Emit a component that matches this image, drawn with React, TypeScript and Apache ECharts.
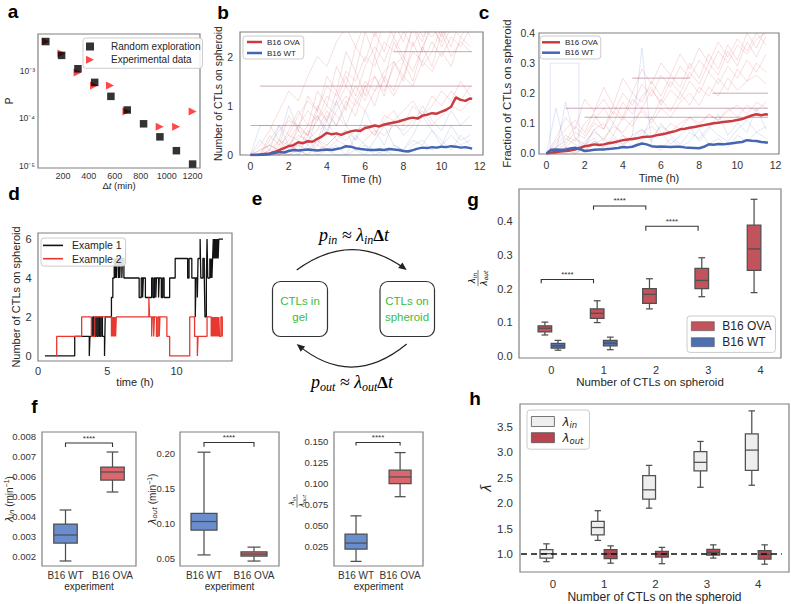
import React, { useEffect, useRef } from 'react';
import * as echarts from 'echarts';

const FONT = '"Liberation Sans", Arial, sans-serif';
const SERIF = '"Liberation Serif", "DejaVu Serif", serif';
const MATH = '"DejaVu Sans", sans-serif';
const TICK = '#333333';
const LABEL = '#262626';
const FRAME = '#808080';
const EDGE = '#4f4f4f';

// ---------- panel a ----------
const aRandomDt = [68, 190, 316, 445, 570, 696, 822, 948, 1075, 1200];
const aRandomP = [4.1e-3, 2.1e-3, 1.1e-3, 5.7e-4, 2.9e-4, 1.5e-4, 7.7e-5, 4.1e-5, 2.1e-5, 1.1e-5];
const aExpDt = [65, 188, 313, 440, 563, 690, 946, 1073, 1200];
const aExpP = [4.1e-3, 2.3e-3, 9.2e-4, 4.9e-4, 4.9e-4, 1.4e-4, 6.7e-5, 6.7e-5, 1.4e-4];

// ---------- panels b, c ----------
const tH = [0, 0.5, 1, 1.5, 2, 2.5, 3, 3.5, 4, 4.5, 5, 5.5, 6, 6.5, 7, 7.5, 8, 8.5, 9, 9.5, 10, 10.5, 11, 11.5];
const tQ = [0, 0.25, 0.5, 0.75, 1, 1.25, 1.5, 1.75, 2, 2.25, 2.5, 2.75, 3, 3.25, 3.5, 3.75, 4, 4.25, 4.5, 4.75, 5, 5.25, 5.5, 5.75, 6, 6.25, 6.5, 6.75, 7, 7.25, 7.5, 7.75, 8, 8.25, 8.5, 8.75, 9, 9.25, 9.5, 9.75, 10, 10.25, 10.5, 10.75, 11, 11.25, 11.5, 11.6];

const bMeanOVA = [0, 0, 0.01, 0.02, 0.03, 0.06, 0.1, 0.14, 0.18, 0.2, 0.26, 0.24, 0.28, 0.27, 0.33, 0.38, 0.45, 0.42, 0.44, 0.41, 0.45, 0.48, 0.5, 0.49, 0.55, 0.57, 0.6, 0.58, 0.62, 0.64, 0.66, 0.68, 0.71, 0.74, 0.76, 0.74, 0.8, 0.82, 0.85, 0.84, 0.88, 0.92, 0.98, 1.17, 1.12, 1.1, 1.15, 1.14];
const bMeanWT = [0, 0, 0, 0.01, 0.02, 0.04, 0.06, 0.05, 0.08, 0.1, 0.09, 0.1, 0.11, 0.1, 0.09, 0.1, 0.11, 0.1, 0.12, 0.14, 0.18, 0.17, 0.14, 0.12, 0.11, 0.1, 0.1, 0.11, 0.1, 0.12, 0.11, 0.1, 0.08, 0.07, 0.1, 0.13, 0.15, 0.14, 0.16, 0.15, 0.17, 0.16, 0.18, 0.17, 0.15, 0.16, 0.14, 0.13];
const cMeanOVA = [0, 0.003, 0.005, 0.006, 0.008, 0.01, 0.013, 0.018, 0.024, 0.026, 0.03, 0.028, 0.03, 0.034, 0.036, 0.04, 0.044, 0.046, 0.048, 0.05, 0.054, 0.055, 0.056, 0.06, 0.063, 0.066, 0.07, 0.074, 0.08, 0.082, 0.085, 0.088, 0.091, 0.094, 0.097, 0.1, 0.102, 0.104, 0.106, 0.108, 0.111, 0.114, 0.12, 0.126, 0.13, 0.127, 0.13, 0.128];
const cMeanWT = [0, 0.012, 0.013, 0.012, 0.013, 0.016, 0.019, 0.014, 0.008, 0.01, 0.012, 0.013, 0.013, 0.015, 0.016, 0.018, 0.021, 0.02, 0.022, 0.028, 0.033, 0.03, 0.024, 0.022, 0.023, 0.022, 0.021, 0.022, 0.022, 0.02, 0.019, 0.018, 0.017, 0.022, 0.03, 0.029, 0.031, 0.03, 0.032, 0.034, 0.036, 0.038, 0.044, 0.042, 0.041, 0.038, 0.036, 0.036];

const bTrajOVA = [
  [0, 0, 0, 0.2, 0.4, 0.3, 0.6, 0.8, 0.5, 0.9, 1.2, 1.0, 1.4, 1.6, 1.3, 1.8, 2.0, 1.7, 2.2, 2.6, 2.3, 2.8, 2.5, 2.9],
  [0, 0, 0.1, 0.3, 0.2, 0.5, 0.4, 0.7, 1.0, 0.8, 0.6, 1.1, 0.9, 1.3, 1.5, 1.2, 1.6, 1.4, 1.9, 1.7, 2.1, 1.8, 2.4, 2.2],
  [0, 0, 0, 0, 0.1, 0.2, 0.1, 0.3, 0.2, 0.4, 0.5, 0.3, 0.6, 0.4, 0.7, 0.9, 0.6, 1.0, 0.8, 1.2, 1.0, 1.3, 1.1, 1.4],
  [0, 0.2, 0.5, 0.9, 1.3, 1.1, 1.6, 2.0, 1.8, 2.3, 2.6, 2.2, 2.7, 2.4, 2.8, 2.6, 3.0, 2.7, 2.9, 2.6, 3.1, 2.8, 3.0, 2.9],
  [0, 0, 0, 0.1, 0, 0.2, 0.3, 0.1, 0.2, 0.4, 0.3, 0.5, 0.6, 0.4, 0.8, 0.7, 0.9, 1.1, 0.8, 1.0, 1.3, 1.1, 1.5, 1.2],
  [0, 0, 0.3, 0.6, 0.4, 0.8, 1.1, 0.9, 1.4, 1.2, 1.7, 1.5, 2.0, 1.8, 2.3, 2.1, 2.5, 2.2, 2.6, 2.4, 2.7, 2.5, 2.8, 2.6],
  [0, 0, 0, 0, 0, 0.1, 0, 0.2, 0.1, 0.3, 0.2, 0.1, 0.3, 0.5, 0.4, 0.6, 0.5, 0.7, 0.9, 0.6, 0.8, 1.0, 0.9, 1.1],
  [0, 0.1, 0.2, 0.5, 0.7, 0.6, 0.9, 0.7, 1.2, 1.0, 1.4, 1.1, 1.5, 1.3, 1.7, 1.9, 1.6, 2.1, 1.9, 2.3, 2.0, 2.4, 2.2, 2.6],
  [0, 0, 0.4, 0.2, 0.8, 0.5, 1.2, 0.9, 1.6, 1.3, 2.1, 1.7, 2.5, 2.0, 2.8, 2.4, 3.0, 2.6, 2.9, 2.7, 3.2, 2.8, 3.1, 3.0],
  [0, 0, 0, 0.3, 0.1, 0.6, 0.4, 1.0, 0.7, 1.3, 0.9, 1.7, 1.2, 2.0, 1.5, 2.3, 1.9, 2.6, 2.1, 2.8, 2.4, 2.9, 2.6, 2.8],
  [0, 0.1, 0.2, 0.1, 0.5, 0.9, 0.6, 1.3, 1.0, 1.8, 1.4, 2.2, 1.9, 2.5, 2.1, 2.7, 2.3, 2.9, 2.4, 2.7, 2.2, 2.6, 2.4, 2.7],
  [0, 0, 0, 0, 0.2, 0.1, 0.5, 0.3, 0.8, 0.6, 1.1, 0.8, 1.4, 1.0, 1.6, 1.3, 1.9, 1.5, 2.2, 1.8, 2.5, 2.0, 2.3, 2.1],
  [0, 0, 0.2, 0.1, 0.3, 0.6, 0.4, 0.9, 0.7, 1.1, 1.6, 1.2, 1.8, 2.2, 1.9, 2.4, 2.0, 2.6, 2.3, 2.9, 2.5, 3.0, 2.7, 3.1],
  [0, 0, 0, 0.1, 0.2, 0.4, 0.3, 0.5, 0.9, 0.6, 1.0, 1.4, 1.1, 1.6, 1.2, 1.9, 1.5, 2.3, 1.8, 2.1, 2.6, 2.2, 2.8, 2.4],
];
const bTrajWT = [
  [0, 0, 0.1, 0, 0.2, 0.1, 0, 0.3, 0.1, 0.2, 0, 0.4, 0.2, 0.1, 0, 0.2, 0.1, 0.3, 0.2, 0.5, 0.3, 0.1, 0.4, 0.2],
  [0, 0.3, 0.1, 0.6, 0.2, 0, 0.4, 0.2, 0.7, 0.3, 0.5, 0.1, 0, 0.3, 0.6, 0.2, 0.1, 0.4, 0.8, 0.5, 0.2, 0.6, 0.3, 0.4],
  [0, 0, 0, 0.1, 0, 0, 0.2, 0, 0.1, 0, 0, 0.1, 0.2, 0, 0.1, 0, 0, 0.2, 0.3, 0.1, 0.2, 0.4, 0.2, 0.3],
  [0, 0.6, 0.6, 0.3, 1.0, 0.5, 0.2, 0.8, 0.4, 1.1, 0.6, 0.3, 0.9, 0.5, 0.2, 0.7, 0.4, 0.6, 1.0, 0.7, 0.5, 0.9, 0.6, 0.8],
];
// flat trajectories: [start time, end time, level]
const bFlat = [[0, 11.6, 0.6], [0.5, 11.6, 1.4], [7.5, 11.6, 2.1]];

const cTrajOVA = [
  [0, 0, 0.02, 0.05, 0.03, 0.08, 0.1, 0.06, 0.12, 0.09, 0.15, 0.11, 0.18, 0.14, 0.2, 0.16, 0.22, 0.19, 0.25, 0.21, 0.28, 0.24, 0.3, 0.27],
  [0, 0.03, 0.06, 0.04, 0.1, 0.13, 0.08, 0.16, 0.12, 0.2, 0.17, 0.24, 0.19, 0.26, 0.22, 0.3, 0.25, 0.33, 0.28, 0.36, 0.31, 0.4, 0.35, 0.42],
  [0, 0, 0, 0.02, 0.01, 0.03, 0.05, 0.02, 0.06, 0.04, 0.07, 0.09, 0.06, 0.1, 0.08, 0.12, 0.1, 0.13, 0.11, 0.15, 0.12, 0.16, 0.14, 0.17],
  [0, 0.05, 0.12, 0.08, 0.18, 0.14, 0.22, 0.16, 0.25, 0.2, 0.28, 0.23, 0.3, 0.26, 0.33, 0.28, 0.35, 0.3, 0.37, 0.32, 0.38, 0.34, 0.4, 0.36],
  [0, 0, 0.01, 0, 0.02, 0.04, 0.02, 0.05, 0.03, 0.06, 0.08, 0.05, 0.09, 0.07, 0.1, 0.12, 0.09, 0.13, 0.11, 0.14, 0.16, 0.13, 0.17, 0.15],
  [0, 0.02, 0.04, 0.09, 0.06, 0.11, 0.15, 0.1, 0.17, 0.13, 0.19, 0.22, 0.16, 0.21, 0.18, 0.24, 0.2, 0.27, 0.23, 0.29, 0.25, 0.31, 0.27, 0.33],
  [0, 0.01, 0.03, 0.07, 0.05, 0.1, 0.08, 0.14, 0.11, 0.18, 0.15, 0.21, 0.17, 0.24, 0.2, 0.27, 0.23, 0.3, 0.26, 0.34, 0.29, 0.37, 0.32, 0.39],
  [0, 0, 0.02, 0.01, 0.04, 0.07, 0.05, 0.09, 0.07, 0.11, 0.14, 0.1, 0.15, 0.12, 0.17, 0.2, 0.16, 0.22, 0.19, 0.25, 0.21, 0.24, 0.26, 0.23],
  [0, 0.04, 0.08, 0.11, 0.07, 0.14, 0.18, 0.13, 0.2, 0.16, 0.23, 0.19, 0.26, 0.22, 0.29, 0.25, 0.31, 0.27, 0.34, 0.3, 0.36, 0.33, 0.38, 0.4],
];
const cTrajWT = [
  [0, 0.15, 0.02, 0, 0.03, 0.05, 0.01, 0.04, 0.02, 0.06, 0.35, 0.03, 0.01, 0.05, 0.02, 0.04, 0.08, 0.03, 0.05, 0.02, 0.06, 0.04, 0.07, 0.05],
  [0, 0.02, 0.05, 0.03, 0.01, 0.04, 0.02, 0.06, 0.03, 0.05, 0.08, 0.04, 0.1, 0.06, 0.03, 0.07, 0.05, 0.09, 0.06, 0.04, 0.08, 0.11, 0.07, 0.09],
  [0, 0, 0.17, 0.05, 0.02, 0.08, 0.04, 0.1, 0.06, 0.02, 0.05, 0.12, 0.07, 0.03, 0.06, 0.09, 0.04, 0.08, 0.13, 0.06, 0.1, 0.07, 0.15, 0.08],
];
const cFlat = [[1.0, 11.6, 0.15], [2.0, 11.6, 0.12], [8.7, 11.6, 0.2], [4.5, 7.5, 0.25]];
const cBoxT = [0.2, 0.2, 1.7, 1.7];
const cBoxV = [0, 0.3, 0.3, 0];

// ---------- panel d ----------
const ex1T = [0.5, 2.65, 3.7, 3.75, 3.95, 4.05, 4.15, 4.25, 4.35, 4.45, 4.55, 4.65, 4.8, 4.85, 5.3, 5.4, 5.5, 5.55, 5.6, 5.65, 5.7, 5.8, 5.85, 5.9, 5.95, 6.05, 6.1, 6.2, 7.3, 7.45, 7.55, 7.6, 7.75, 8.2, 8.3, 8.4, 8.5, 8.55, 8.7, 8.75, 8.9, 9.0, 9.1, 9.5, 9.9, 10.8, 10.9, 11.1, 11.35, 11.4, 11.5, 11.55, 11.7, 11.75, 11.9, 12.0, 12.05, 12.15, 12.2, 12.25, 12.4, 12.45, 12.5, 12.55, 12.6, 12.65, 12.7, 12.75, 12.8, 12.85, 12.9, 12.95, 13.0, 13.05, 13.35];
const ex1V = [0, 1, 0, 1, 2, 1, 2, 1, 2, 1, 2, 1, 0, 2, 3, 4, 5, 4, 5, 4, 5, 4, 5, 4, 5, 4, 5, 4, 3, 4, 3, 4, 3, 4, 3, 4, 3, 4, 3, 4, 3, 4, 3, 4, 5, 4, 5, 4, 2, 4, 3, 5, 6, 4, 5, 4, 2, 4, 6, 4, 5, 4, 5, 4, 5, 6, 5, 6, 5, 6, 5, 6, 5, 6, 6];
const ex2T = [1.25, 1.35, 3.15, 3.85, 4.1, 5.3, 5.35, 5.4, 5.45, 5.5, 5.55, 5.6, 5.65, 8.0, 8.05, 8.2, 8.25, 8.35, 8.4, 8.55, 8.65, 8.75, 8.8, 9.3, 9.5, 10.95, 11.3, 11.5, 11.55, 12.2, 12.5, 12.55, 12.6, 12.65, 12.7, 12.75, 12.8, 12.85, 12.9, 12.95, 13.0, 13.05, 13.1, 13.2, 13.3];
const ex2V = [0, 1, 2, 1, 2, 1, 2, 1, 2, 1, 2, 1, 2, 3, 2, 1, 2, 1, 2, 1, 2, 1, 2, 1, 0, 2, 1, 0, 1, 2, 1, 2, 1, 2, 1, 2, 1, 2, 1, 2, 1, 2, 1, 2, 1];

// ---------- panel f: [low whisker, Q1, median, Q3, high whisker] ----------
const fGroups = ['B16 WT', 'B16 OVA'];
const f1WT = [0.00175, 0.00265, 0.00305, 0.0036, 0.0043];
const f1OVA = [0.0052, 0.0058, 0.0062, 0.00645, 0.0072];
const f2WT = [0.0545, 0.09, 0.1025, 0.114, 0.202];
const f2OVA = [0.0457, 0.0529, 0.0557, 0.059, 0.0657];
const f3WT = [0.0075, 0.022, 0.0293, 0.04, 0.0617];
const f3OVA = [0.0845, 0.1, 0.108, 0.116, 0.137];
// brackets: [y top, y end]
const f1Bracket = [0.00765, 0.00745];
const f2Bracket = [0.216, 0.21];
const f3Bracket = [0.149, 0.1455];

// ---------- panel g ----------
const gCats = [0, 1, 2, 3, 4];
const gOVA = [
  [0.063, 0.072, 0.083, 0.09, 0.101],
  [0.0995, 0.112, 0.127, 0.14, 0.164],
  [0.14, 0.156, 0.183, 0.2, 0.229],
  [0.176, 0.2, 0.224, 0.26, 0.291],
  [0.188, 0.254, 0.317, 0.387, 0.4636],
];
const gWTCats = [0, 1];
const gWT = [
  [0.018, 0.024, 0.031, 0.038, 0.047],
  [0.0195, 0.031, 0.039, 0.047, 0.0566],
];
// [from category, to category, y top, y end]
const gBrackets = [
  [0, 1, 0.227, 0.216],
  [1, 2, 0.444, 0.433],
  [2, 3, 0.384, 0.371],
];

// ---------- panel h ----------
const hInCats = [0, 1, 2, 3, 4];
const hIn = [
  [0.85, 0.92, 1.006, 1.084, 1.2],
  [1.267, 1.378, 1.52, 1.64, 1.85],
  [1.9, 2.08, 2.26, 2.54, 2.74],
  [2.31, 2.63, 2.8, 3.01, 3.21],
  [2.35, 2.64, 3.04, 3.36, 3.81],
];
const hOutCats = [1, 2, 3, 4];
const hOut = [
  [0.82, 0.908, 1.006, 1.084, 1.16],
  [0.81, 0.94, 1.0, 1.05, 1.13],
  [0.92, 0.98, 1.03, 1.09, 1.18],
  [0.8, 0.9, 0.99, 1.065, 1.18],
];
const hRefLevel = 1.0;
const hRefSpan = [-0.62, 4.46];

const LEG: Record<string, string> = {
  bOVA: 'B16 OVA', bWT: 'B16 WT', cOVA: 'B16 OVA', cWT: 'B16 WT',
  gOVA: 'B16 OVA', gWT: 'B16 WT',
  hIn: '{l|λ}{s|in}', hOut: '{l|λ}{s|out}',
  'Example 1': 'Example 1', 'Example 2': 'Example 2',
  'Random exploration': 'Random exploration', 'Experimental data': 'Experimental data',
};

const zip = (xs: number[], ys: number[]) => xs.map((x, i) => [x, ys[i]]);
const tickFmt = (step: number, dec: number) => (v: number) =>
  Math.abs(v / step - Math.round(v / step)) < 1e-6 ? (Math.abs(v) < 1e-12 ? (0).toFixed(dec) : v.toFixed(dec)) : '';
const SUP: Record<string, string> = { '-': '⁻', '0': '⁰', '1': '¹', '2': '²', '3': '³', '4': '⁴', '5': '⁵', '6': '⁶', '7': '⁷', '8': '⁸', '9': '⁹' };
const logFmt = (v: number) => {
  const e = Math.log10(v);
  const r = Math.round(e);
  if (Math.abs(e - r) > 1e-6) return '';
  return '10' + String(r).split('').map((ch) => SUP[ch] || ch).join('');
};

function axis(gridIndex: number, o: any) {
  const { axisLabel, nameTextStyle, ...rest } = o;
  return {
    type: 'value',
    gridIndex,
    axisLine: { show: false },
    axisTick: { show: false },
    splitLine: { show: false },
    nameLocation: 'middle',
    ...rest,
    axisLabel: { color: TICK, fontFamily: FONT, ...(axisLabel || {}) },
    nameTextStyle: { color: LABEL, fontFamily: FONT, ...(nameTextStyle || {}) },
  };
}

function boxRender(halfW: number) {
  return (params: any, api: any) => {
    const x = api.value(0);
    const lo = api.value(1), q1 = api.value(2), md = api.value(3), q3 = api.value(4), hi = api.value(5);
    const pTL = api.coord([x - halfW, q3]);
    const pBR = api.coord([x + halfW, q1]);
    const pLo = api.coord([x, lo]);
    const pHi = api.coord([x, hi]);
    const pMd = api.coord([x, md]);
    const xc = pLo[0];
    const cap = (pBR[0] - pTL[0]) / 4;
    const ls = { stroke: EDGE, lineWidth: 1.25, fill: 'none' };
    return {
      type: 'group',
      children: [
        { type: 'line', shape: { x1: xc, y1: pBR[1], x2: xc, y2: pLo[1] }, style: ls },
        { type: 'line', shape: { x1: xc, y1: pTL[1], x2: xc, y2: pHi[1] }, style: ls },
        { type: 'line', shape: { x1: xc - cap, y1: pLo[1], x2: xc + cap, y2: pLo[1] }, style: ls },
        { type: 'line', shape: { x1: xc - cap, y1: pHi[1], x2: xc + cap, y2: pHi[1] }, style: ls },
        { type: 'rect', shape: { x: pTL[0], y: pTL[1], width: pBR[0] - pTL[0], height: pBR[1] - pTL[1] }, style: { fill: api.visual('color'), stroke: EDGE, lineWidth: 1.25 } },
        { type: 'line', shape: { x1: pTL[0], y1: pMd[1], x2: pBR[0], y2: pMd[1] }, style: ls },
      ],
    };
  };
}

function boxSeries(name: string | undefined, idx: number, xs: number[], rows: number[][], color: string, halfW: number, offset: number) {
  return {
    type: 'custom',
    name,
    xAxisIndex: idx,
    yAxisIndex: idx,
    color,
    itemStyle: { color },
    encode: { x: 0, y: [1, 2, 3, 4, 5] },
    data: xs.map((x, i) => [x + offset, ...rows[i]]),
    renderItem: boxRender(halfW),
    silent: true,
    z: 3,
  };
}

function bracketSeries(idx: number, rows: number[][]) {
  return {
    type: 'custom',
    xAxisIndex: idx,
    yAxisIndex: idx,
    encode: { x: [0, 1], y: [2, 3] },
    data: rows,
    silent: true,
    z: 4,
    renderItem: (params: any, api: any) => {
      const x1 = api.value(0), x2 = api.value(1), yt = api.value(2), yd = api.value(3);
      const a = api.coord([x1, yd]);
      const b = api.coord([x1, yt]);
      const c = api.coord([x2, yt]);
      const d = api.coord([x2, yd]);
      return {
        type: 'group',
        children: [
          { type: 'polyline', shape: { points: [a, b, c, d] }, style: { stroke: '#333', lineWidth: 1.1, fill: 'none' } },
          { type: 'text', x: (b[0] + c[0]) / 2, y: b[1] - 5, style: { text: '****', align: 'center', verticalAlign: 'middle', fontSize: 8, fill: '#333', fontFamily: FONT } },
        ],
      };
    },
  };
}

function faint(idx: number, data: number[][], color: string, width = 0.9) {
  return {
    type: 'line', xAxisIndex: idx, yAxisIndex: idx, data, symbol: 'none', silent: true,
    lineStyle: { width, color }, z: 1, emphasis: { disabled: true },
  };
}

function buildOption() {
  const grids = [
    { left: 38, top: 34, width: 162, height: 134 },
    { left: 240, top: 32, width: 243, height: 123 },
    { left: 539, top: 33, width: 240, height: 121 },
    { left: 38, top: 233, width: 194, height: 128 },
    { left: 42, top: 432, width: 94, height: 134 },
    { left: 180, top: 432, width: 99, height: 134 },
    { left: 334, top: 432, width: 89, height: 134 },
    { left: 519, top: 189, width: 262, height: 169 },
    { left: 520, top: 404, width: 269, height: 168 },
  ].map((g) => ({ ...g, show: true, borderColor: FRAME, borderWidth: 1.2, backgroundColor: 'transparent', containLabel: false, outerBoundsMode: 'none' }));

  const fGroupFmt = (v: number) => (Math.abs(v) < 1e-9 ? fGroups[0] : Math.abs(v - 1) < 1e-9 ? fGroups[1] : '');
  const lamRich = {
    l: { fontFamily: MATH, fontStyle: 'italic', fontSize: 10, color: LABEL },
    s: { fontFamily: MATH, fontStyle: 'italic', fontSize: 7, padding: [5, 0, 0, 0], color: LABEL },
    n: { fontFamily: FONT, fontSize: 10, color: LABEL },
    p: { fontFamily: FONT, fontSize: 7, padding: [0, 0, 5, 0], color: LABEL },
  };

  const xAxis = [
    axis(0, { min: 8, max: 1257, minInterval: 200, maxInterval: 200, axisLabel: { fontSize: 9, margin: 3, formatter: tickFmt(200, 0) },
      name: '{n|Δ}{i|t}{n| (min)}', nameGap: 12,
      nameTextStyle: { rich: { n: { fontSize: 9.5, fontFamily: FONT, color: LABEL }, i: { fontSize: 9.5, fontFamily: FONT, fontStyle: 'italic', color: LABEL } } } }),
    axis(1, { min: -0.55, max: 12.17, minInterval: 2, maxInterval: 2, axisLabel: { fontSize: 10.5, margin: 5, formatter: tickFmt(2, 0) },
      name: 'Time (h)', nameGap: 18, nameTextStyle: { fontSize: 11 } }),
    axis(2, { min: -0.39, max: 12.18, minInterval: 2, maxInterval: 2, axisLabel: { fontSize: 10.5, margin: 5, formatter: tickFmt(2, 0) },
      name: 'Time (h)', nameGap: 18, nameTextStyle: { fontSize: 11 } }),
    axis(3, { min: 0, max: 14, minInterval: 5, maxInterval: 5, axisLabel: { fontSize: 11, margin: 4, formatter: tickFmt(5, 0) },
      name: 'time (h)', nameGap: 15, nameTextStyle: { fontSize: 11 } }),
    axis(4, { min: -0.5, max: 1.5, minInterval: 1, maxInterval: 1, axisLabel: { fontSize: 10, margin: 4.5, formatter: fGroupFmt },
      name: 'experiment', nameGap: 15, nameTextStyle: { fontSize: 10 } }),
    axis(5, { min: -0.48, max: 1.5, minInterval: 1, maxInterval: 1, axisLabel: { fontSize: 10, margin: 4.5, formatter: fGroupFmt },
      name: 'experiment', nameGap: 15, nameTextStyle: { fontSize: 10 } }),
    axis(6, { min: -0.5, max: 1.52, minInterval: 1, maxInterval: 1, axisLabel: { fontSize: 10, margin: 4.5, formatter: fGroupFmt },
      name: 'experiment', nameGap: 15, nameTextStyle: { fontSize: 10 } }),
    axis(7, { min: -0.62, max: 4.39, minInterval: 1, maxInterval: 1, axisLabel: { fontSize: 11, margin: 6, formatter: tickFmt(1, 0) },
      name: 'Number of CTLs on spheroid', nameGap: 18, nameTextStyle: { fontSize: 11.5 } }),
    axis(8, { min: -0.64, max: 4.6, minInterval: 1, maxInterval: 1, axisLabel: { fontSize: 11.5, margin: 6, formatter: tickFmt(1, 0) },
      name: 'Number of CTLs on the spheroid', nameGap: 19, nameTextStyle: { fontSize: 12 } }),
  ];

  const yAxis = [
    axis(0, { type: 'log', logBase: 10, min: 9.1e-6, max: 5.9e-3, axisLabel: { fontSize: 8.5, margin: 3, formatter: logFmt },
      name: 'P', nameGap: 22, nameTextStyle: { fontSize: 10 } }),
    axis(1, { min: 0, max: 2.5, minInterval: 1, maxInterval: 1, axisLabel: { fontSize: 10.5, margin: 7, formatter: tickFmt(1, 0) },
      name: 'Number of CTLs on spheroid', nameGap: 15, nameTextStyle: { fontSize: 10.5 } }),
    axis(2, { min: -0.002, max: 0.4, minInterval: 0.1, maxInterval: 0.1, axisLabel: { fontSize: 10.5, margin: 4, formatter: tickFmt(0.1, 1) },
      name: 'Fraction of CTLs on spheroid', nameGap: 26, nameTextStyle: { fontSize: 11.5 } }),
    axis(3, { min: -0.26, max: 6.31, minInterval: 2, maxInterval: 2, axisLabel: { fontSize: 11, margin: 6.5, formatter: tickFmt(2, 0) },
      name: 'Number of CTLs on spheroid', nameGap: 15, nameTextStyle: { fontSize: 11 } }),
    axis(4, { min: 0.0015, max: 0.0082, minInterval: 0.001, maxInterval: 0.001, axisLabel: { fontSize: 9.5, margin: 6, formatter: tickFmt(0.001, 3) },
      name: '{l|λ}{s|in}{n| (min}{p|−1}{n|)}', nameGap: 27, nameMoveOverlap: false, nameTextStyle: { rich: lamRich } }),
    axis(5, { min: 0.0386, max: 0.231, minInterval: 0.05, maxInterval: 0.05, axisLabel: { fontSize: 9.5, margin: 5, formatter: tickFmt(0.05, 2) },
      name: '{l|λ}{s|out}{n| (min}{p|−1}{n|)}', nameGap: 22, nameMoveOverlap: false, nameTextStyle: { rich: lamRich } }),
    axis(6, { min: 0.002, max: 0.1615, minInterval: 0.025, maxInterval: 0.025, axisLabel: { fontSize: 9.5, margin: 5.7, formatter: tickFmt(0.025, 3) } }),
    axis(7, { min: -0.005, max: 0.494, minInterval: 0.1, maxInterval: 0.1, axisLabel: { fontSize: 11, margin: 6.5, formatter: tickFmt(0.1, 1) } }),
    axis(8, { min: 0.647, max: 3.945, minInterval: 0.5, maxInterval: 0.5, axisLabel: { fontSize: 11.5, margin: 7, formatter: tickFmt(0.5, 1) },
      name: 'λ̄', nameGap: 26, nameTextStyle: { fontSize: 13, fontFamily: MATH, fontStyle: 'italic' } }),
  ];

  const RED_F = 'rgba(214,70,75,0.2)';
  const BLUE_F = 'rgba(80,115,200,0.2)';
  const FLAT = 'rgba(140,60,90,0.45)';
  const RED_M = '#cc3a40';
  const BLUE_M = '#4466b2';

  const series: any[] = [
    // a
    { type: 'scatter', name: 'Random exploration', xAxisIndex: 0, yAxisIndex: 0, data: zip(aRandomDt, aRandomP), symbol: 'rect', symbolSize: 7.5, color: '#000', itemStyle: { color: '#000' }, z: 3 },
    { type: 'scatter', name: 'Experimental data', xAxisIndex: 0, yAxisIndex: 0, data: zip(aExpDt, aExpP), symbol: 'path://M0,0L10,5L0,10Z', symbolSize: 8, color: '#ff1a1a', itemStyle: { color: '#ff1a1a' }, z: 2 },
  ];

  // b
  bTrajOVA.forEach((v) => series.push(faint(1, zip(tH, v), RED_F)));
  bTrajWT.forEach((v) => series.push(faint(1, zip(tH, v), BLUE_F)));
  bFlat.forEach((f) => series.push(faint(1, [[f[0], f[2]], [f[1], f[2]]], FLAT, 1)));
  series.push({ type: 'line', name: 'bOVA', xAxisIndex: 1, yAxisIndex: 1, data: zip(tQ, bMeanOVA), symbol: 'none', color: RED_M, lineStyle: { width: 2.5, color: RED_M }, z: 5 });
  series.push({ type: 'line', name: 'bWT', xAxisIndex: 1, yAxisIndex: 1, data: zip(tQ, bMeanWT), symbol: 'none', color: BLUE_M, lineStyle: { width: 2.5, color: BLUE_M }, z: 5 });

  // c
  cTrajOVA.forEach((v) => series.push(faint(2, zip(tH, v), RED_F)));
  cTrajWT.forEach((v) => series.push(faint(2, zip(tH, v), BLUE_F)));
  series.push(faint(2, zip(cBoxT, cBoxV), BLUE_F));
  cFlat.forEach((f) => series.push(faint(2, [[f[0], f[2]], [f[1], f[2]]], FLAT, 1)));
  series.push({ type: 'line', name: 'cOVA', xAxisIndex: 2, yAxisIndex: 2, data: zip(tQ, cMeanOVA), symbol: 'none', color: RED_M, lineStyle: { width: 2.5, color: RED_M }, z: 5 });
  series.push({ type: 'line', name: 'cWT', xAxisIndex: 2, yAxisIndex: 2, data: zip(tQ, cMeanWT), symbol: 'none', color: BLUE_M, lineStyle: { width: 2.5, color: BLUE_M }, z: 5 });

  // d
  series.push({ type: 'line', name: 'Example 1', xAxisIndex: 3, yAxisIndex: 3, data: zip(ex1T, ex1V), step: 'end', symbol: 'none', color: '#111', lineStyle: { width: 1.3, color: '#111' }, z: 3 });
  series.push({ type: 'line', name: 'Example 2', xAxisIndex: 3, yAxisIndex: 3, data: zip(ex2T, ex2V), step: 'end', symbol: 'none', color: '#e8372e', lineStyle: { width: 1.3, color: '#e8372e' }, z: 3 });

  // f
  const F_BLUE = '#6a8ecd';
  const F_RED = '#da676e';
  series.push(boxSeries(undefined, 4, [0], [f1WT], F_BLUE, 0.25, 0));
  series.push(boxSeries(undefined, 4, [1], [f1OVA], F_RED, 0.25, 0));
  series.push(bracketSeries(4, [[0, 1, f1Bracket[0], f1Bracket[1]]]));
  series.push(boxSeries(undefined, 5, [0], [f2WT], F_BLUE, 0.26, 0));
  series.push(boxSeries(undefined, 5, [1], [f2OVA], F_RED, 0.26, 0));
  series.push(bracketSeries(5, [[0, 1, f2Bracket[0], f2Bracket[1]]]));
  series.push(boxSeries(undefined, 6, [0], [f3WT], F_BLUE, 0.25, 0));
  series.push(boxSeries(undefined, 6, [1], [f3OVA], F_RED, 0.25, 0));
  series.push(bracketSeries(6, [[0, 1, f3Bracket[0], f3Bracket[1]]]));

  // g
  const G_RED = '#c2525b';
  const G_BLUE = '#4f70b0';
  series.push(boxSeries('gOVA', 7, gCats, gOVA, G_RED, 0.13, -0.125));
  series.push(boxSeries('gWT', 7, gWTCats, gWT, G_BLUE, 0.13, 0.125));
  series.push(bracketSeries(7, gBrackets.map((r) => [r[0] - 0.195, r[1] - 0.195, r[2], r[3]])));

  // h
  const H_LIGHT = '#eeeeee';
  const H_RED = '#b94450';
  series.push(boxSeries('hIn', 8, hInCats, hIn, H_LIGHT, 0.125, -0.125));
  series.push(boxSeries('hOut', 8, hOutCats, hOut, H_RED, 0.125, 0.125));
  series.push({ type: 'line', xAxisIndex: 8, yAxisIndex: 8, data: [[hRefSpan[0], hRefLevel], [hRefSpan[1], hRefLevel]], symbol: 'none', silent: true,
    lineStyle: { color: '#111', width: 1.6, type: [6, 4] }, z: 6 });

  const legendBase = {
    orient: 'vertical', selectedMode: false, backgroundColor: 'rgba(255,255,255,0.85)', borderColor: '#cccccc', borderWidth: 1, borderRadius: 3,
    formatter: (n: string) => LEG[n] || n,
  };
  const legend = [
    { ...legendBase, left: 83, top: 38, padding: [2.5, 2, 2.5, 3], itemGap: 1.3, itemWidth: 8, itemHeight: 8,
      data: ['Random exploration', 'Experimental data'], textStyle: { fontSize: 10, lineHeight: 12, color: LABEL, fontFamily: FONT, padding: [0, 0, 0, 12] } },
    { ...legendBase, left: 243, top: 36, padding: [1, 4, 1, 4], itemGap: 1, itemWidth: 15, itemHeight: 2.5, icon: 'rect',
      data: ['bOVA', 'bWT'], textStyle: { fontSize: 8, lineHeight: 10, color: LABEL, fontFamily: FONT } },
    { ...legendBase, left: 540, top: 36, padding: [1.3, 3, 1.3, 2], itemGap: 0.4, itemWidth: 18, itemHeight: 2.5, icon: 'rect',
      data: ['cOVA', 'cWT'], textStyle: { fontSize: 8, lineHeight: 10, color: LABEL, fontFamily: FONT } },
    { ...legendBase, left: 41, top: 238, padding: [1.4, 4, 1.4, 2], itemGap: 1.3, itemWidth: 20, itemHeight: 1.6, icon: 'rect',
      data: ['Example 1', 'Example 2'], textStyle: { fontSize: 10.5, lineHeight: 12, color: LABEL, fontFamily: FONT, padding: [0, 0, 0, 4] } },
    { ...legendBase, left: 687, top: 316, padding: [3.2, 4, 3.2, 4], itemGap: 2, itemWidth: 23, itemHeight: 9, icon: 'rect',
      itemStyle: { borderColor: '#555', borderWidth: 0.6 },
      data: ['gOVA', 'gWT'], textStyle: { fontSize: 12, lineHeight: 14, color: LABEL, fontFamily: FONT, padding: [0, 0, 0, 3] } },
    { ...legendBase, left: 527, top: 410, padding: [4, 6, 4, 4], itemGap: 1.2, itemWidth: 23, itemHeight: 10, icon: 'rect',
      itemStyle: { borderColor: '#555', borderWidth: 0.8 },
      data: ['hIn', 'hOut'], textStyle: { fontSize: 12, lineHeight: 13, color: LABEL, fontFamily: FONT, padding: [0, 0, 0, 3],
        rich: {
          l: { fontFamily: MATH, fontStyle: 'italic', fontSize: 12, lineHeight: 13, color: LABEL },
          s: { fontFamily: MATH, fontStyle: 'italic', fontSize: 8.5, lineHeight: 7, padding: [6, 0, 0, 0], color: LABEL },
        } } },
  ];

  const letter = (t: string, x: number, y: number) => ({
    type: 'text', x, y, style: { text: t, fontFamily: FONT, fontWeight: 'bold', fontSize: 19, fill: '#000', align: 'center', verticalAlign: 'middle' },
  });

  const fracRich = (fs: number) => ({
    l: { fontFamily: MATH, fontStyle: 'italic', fontSize: fs, color: LABEL },
    s: { fontFamily: MATH, fontStyle: 'italic', fontSize: fs * 0.7, padding: [fs * 0.5, 0, 0, 0], color: LABEL },
  });
  const fracLabel = (x: number, y: number, fs: number) => ({
    type: 'group', x, y, rotation: Math.PI / 2,
    children: [
      { type: 'text', x: 0, y: -0.5, style: { text: '{l|λ}{s|in}', rich: fracRich(fs), align: 'center', verticalAlign: 'bottom' } },
      { type: 'line', shape: { x1: -fs * 0.95, y1: 0, x2: fs * 0.95, y2: 0 }, style: { stroke: LABEL, lineWidth: 0.6 } },
      { type: 'text', x: 0, y: 0.5, style: { text: '{l|λ}{s|out}', rich: fracRich(fs), align: 'center', verticalAlign: 'top' } },
    ],
  });

  const eqRich = {
    i: { fontFamily: SERIF, fontStyle: 'italic', fontSize: 18, color: '#111' },
    s: { fontFamily: SERIF, fontStyle: 'italic', fontSize: 12, padding: [9, 0, 0, 0], color: '#111' },
    d: { fontFamily: SERIF, fontWeight: 'bold', fontSize: 17, color: '#111' },
  };
  const GREEN = '#3dbb3d';
  const graphic = [
    letter('a', 13, 11), letter('b', 223, 12.5), letter('c', 484, 12.5), letter('d', 14, 193),
    letter('e', 257, 198.5), letter('f', 34.5, 406), letter('g', 473, 199), letter('h', 475, 398.5),
    fracLabel(297, 501, 7), fracLabel(478, 278, 8.5),
    // panel e diagram
    { type: 'rect', shape: { x: 272.5, y: 281.5, width: 55, height: 55, r: 8 }, style: { fill: '#fff', stroke: '#333', lineWidth: 1.2 } },
    { type: 'rect', shape: { x: 380, y: 281.5, width: 54.5, height: 55, r: 8 }, style: { fill: '#fff', stroke: '#333', lineWidth: 1.2 } },
    { type: 'text', x: 300, y: 309, style: { text: 'CTLs in\ngel', align: 'center', verticalAlign: 'middle', fill: GREEN, fontSize: 11.5, lineHeight: 16.5, fontFamily: FONT } },
    { type: 'text', x: 407, y: 309, style: { text: 'CTLs on\nspheroid', align: 'center', verticalAlign: 'middle', fill: GREEN, fontSize: 11.5, lineHeight: 16.5, fontFamily: FONT } },
    { type: 'bezierCurve', shape: { x1: 296.7, y1: 270, cpx1: 351.7, cpy1: 230, x2: 405, y2: 268.8 }, style: { stroke: '#222', lineWidth: 1.2, fill: 'none' } },
    { type: 'polygon', shape: { points: [[406.7, 270], [398.2, 268.1], [402.4, 262.5]] }, style: { fill: '#222' } },
    { type: 'bezierCurve', shape: { x1: 406.7, y1: 344, cpx1: 351.7, cpy1: 389.3, x2: 298.4, y2: 345.4 }, style: { stroke: '#222', lineWidth: 1.2, fill: 'none' } },
    { type: 'polygon', shape: { points: [[296.7, 344], [305.1, 346.4], [300.7, 351.8]] }, style: { fill: '#222' } },
    { type: 'text', x: 354, y: 235, style: { text: '{i|p}{s|in}{i| ≈ λ}{s|in}{d|Δ}{i|t}', rich: eqRich, align: 'center', verticalAlign: 'middle' } },
    { type: 'text', x: 352, y: 382, style: { text: '{i|p}{s|out}{i| ≈ λ}{s|out}{d|Δ}{i|t}', rich: eqRich, align: 'center', verticalAlign: 'middle' } },
  ];

  return {
    animation: false,
    backgroundColor: '#ffffff',
    textStyle: { fontFamily: FONT },
    grid: grids,
    xAxis,
    yAxis,
    legend,
    series,
    graphic,
  };
}

export default function App() {
  const ref = useRef<HTMLDivElement>(null);
  useEffect(() => {
    const chart = echarts.init(ref.current!, null, { renderer: 'svg', width: 791, height: 604 });
    chart.setOption(buildOption() as any);
    return () => chart.dispose();
  }, []);
  return <div ref={ref} style={{ position: 'fixed', left: 0, top: 0, width: 791, height: 604, background: '#fff' }} />;
}
